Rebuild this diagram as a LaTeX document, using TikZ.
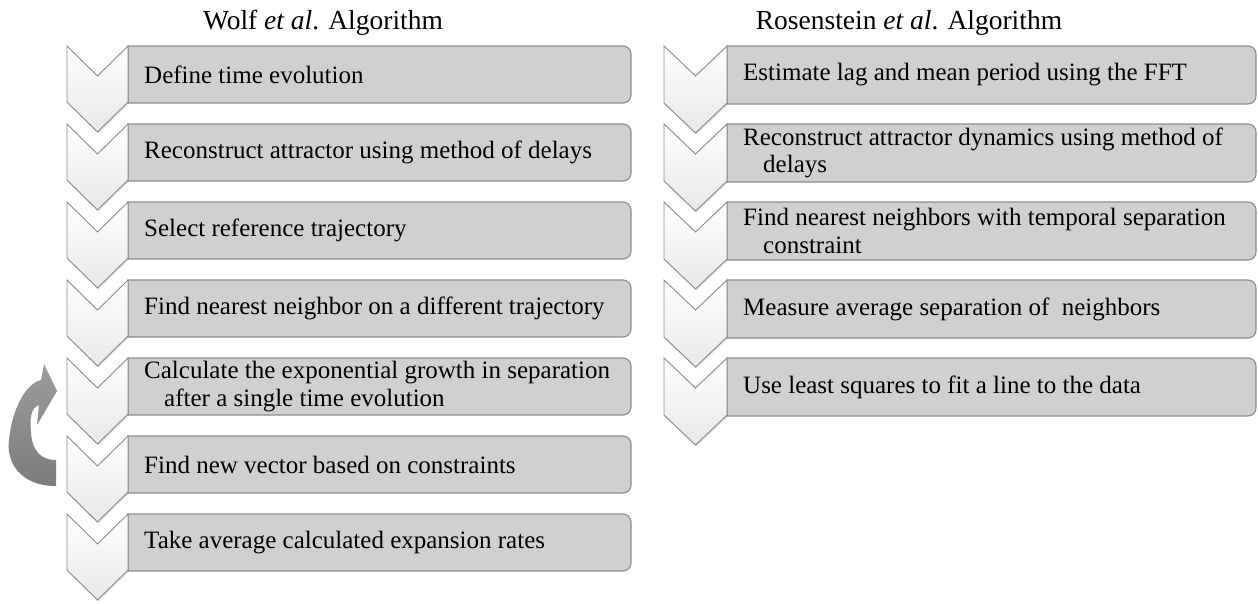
\documentclass[tikz,border=0pt]{standalone}
\usepackage{fontspec}
\setmainfont{Liberation Serif}
\usetikzlibrary{shadows}
\definecolor{boxfill}{HTML}{D0D0D0}
\definecolor{boxline}{HTML}{8C8C8C}
\definecolor{chevline}{HTML}{8A8A8A}
\definecolor{arrowtop}{HTML}{9C9C9C}
\definecolor{arrowbot}{HTML}{7C7C7C}
\tikzset{
  boxshape/.style={fill=boxfill, draw=boxline, line width=1.1pt},
  chevshape/.style={top color=white, bottom color=black!9, draw=chevline, line width=0.9pt,
    drop shadow={opacity=0.25, shadow xshift=0.8pt, shadow yshift=-1.6pt}},
  steptext/.style={anchor=west, align=left, font=\fontsize{25}{27.5}\selectfont, inner sep=0pt},
  titletext/.style={font=\fontsize{27.5}{30}\selectfont, inner sep=0pt},
  loopshape/.style={top color=arrowtop, bottom color=arrowbot, draw=none},
}
% #1 xL, #2 xR, #3 xEnd, #4 top, #5 box height
\newcommand\flowrow[5]{%
  \pgfmathsetmacro\xm{(#1+#2)/2}%
  \pgfmathsetmacro\yb{#4+#5}%
  \pgfmathsetmacro\ybr{#4+#5-8}%
  \pgfmathsetmacro\xer{#3-8}%
  \pgfmathsetmacro\yn{#4+30}%
  \pgfmathsetmacro\ys{#4+#5-1}%
  \pgfmathsetmacro\yt{#4+#5+29}%
  \path[boxshape] (#2,#4) -- (\xer,#4) arc (-90:0:8) -- (#3,\ybr) arc (0:90:8) -- (#2,\yb) -- cycle;
  \path[chevshape] (#1,#4) -- (\xm,\yn) -- (#2,#4) -- (#2,\ys) -- (\xm,\yt) -- (#1,\ys) -- cycle;
}
\begin{document}
\begin{tikzpicture}[x=1pt, y=-1pt]
\useasboundingbox (0,0) rectangle (1258,603);

\node[titletext] (titleL) at (323,23) {Wolf \textit{et al}. Algorithm};
\node[titletext] (titleR) at (909,23) {Rosenstein \textit{et al}. Algorithm};

% left column
\foreach \k in {0,...,6}{
  \pgfmathsetmacro\tp{46+78*\k}
  \flowrow{67}{128}{631}{\tp}{57}
}
\foreach \txt [count=\i from 0] in {
  {Define time evolution},
  {Reconstruct attractor using method of delays},
  {Select reference trajectory},
  {Find nearest neighbor on a different trajectory},
  {Calculate the exponential growth in separation\\\hspace*{20pt}after a single time evolution},
  {Find new vector based on constraints},
  {Take average calculated expansion rates}}{
  \pgfmathsetmacro\ty{46+78*\i+28.5}
  \node[steptext] (L\i) at (144,\ty) {\txt};
}

% right column
\foreach \k in {0,...,4}{
  \pgfmathsetmacro\tp{46+78*\k}
  \flowrow{664}{727}{1256}{\tp}{58}
}
\foreach \txt [count=\i from 0] in {
  {Estimate lag and mean period using the FFT},
  {Reconstruct attractor dynamics using method of\\\hspace*{20pt}delays},
  {Find nearest neighbors with temporal separation\\\hspace*{20pt}constraint},
  {Measure average separation of \ neighbors},
  {Use least squares to fit a line to the data}}{
  \pgfmathsetmacro\ty{46+78*\i+29}
  \node[steptext] (R\i) at (743,\ty) {\txt};
}

% loop-back curved arrow
\path[loopshape] (56,486) .. controls (20,486) and (6,462) .. (9,440)
  .. controls (12,410) and (25,384) .. (41,380)
  -- (44,364) -- (57,391) -- (37,425) -- (39,405)
  .. controls (30,408) and (30,420) .. (31,432)
  .. controls (32,452) and (42,460) .. (56,460) -- cycle;
\end{tikzpicture}
\end{document}
